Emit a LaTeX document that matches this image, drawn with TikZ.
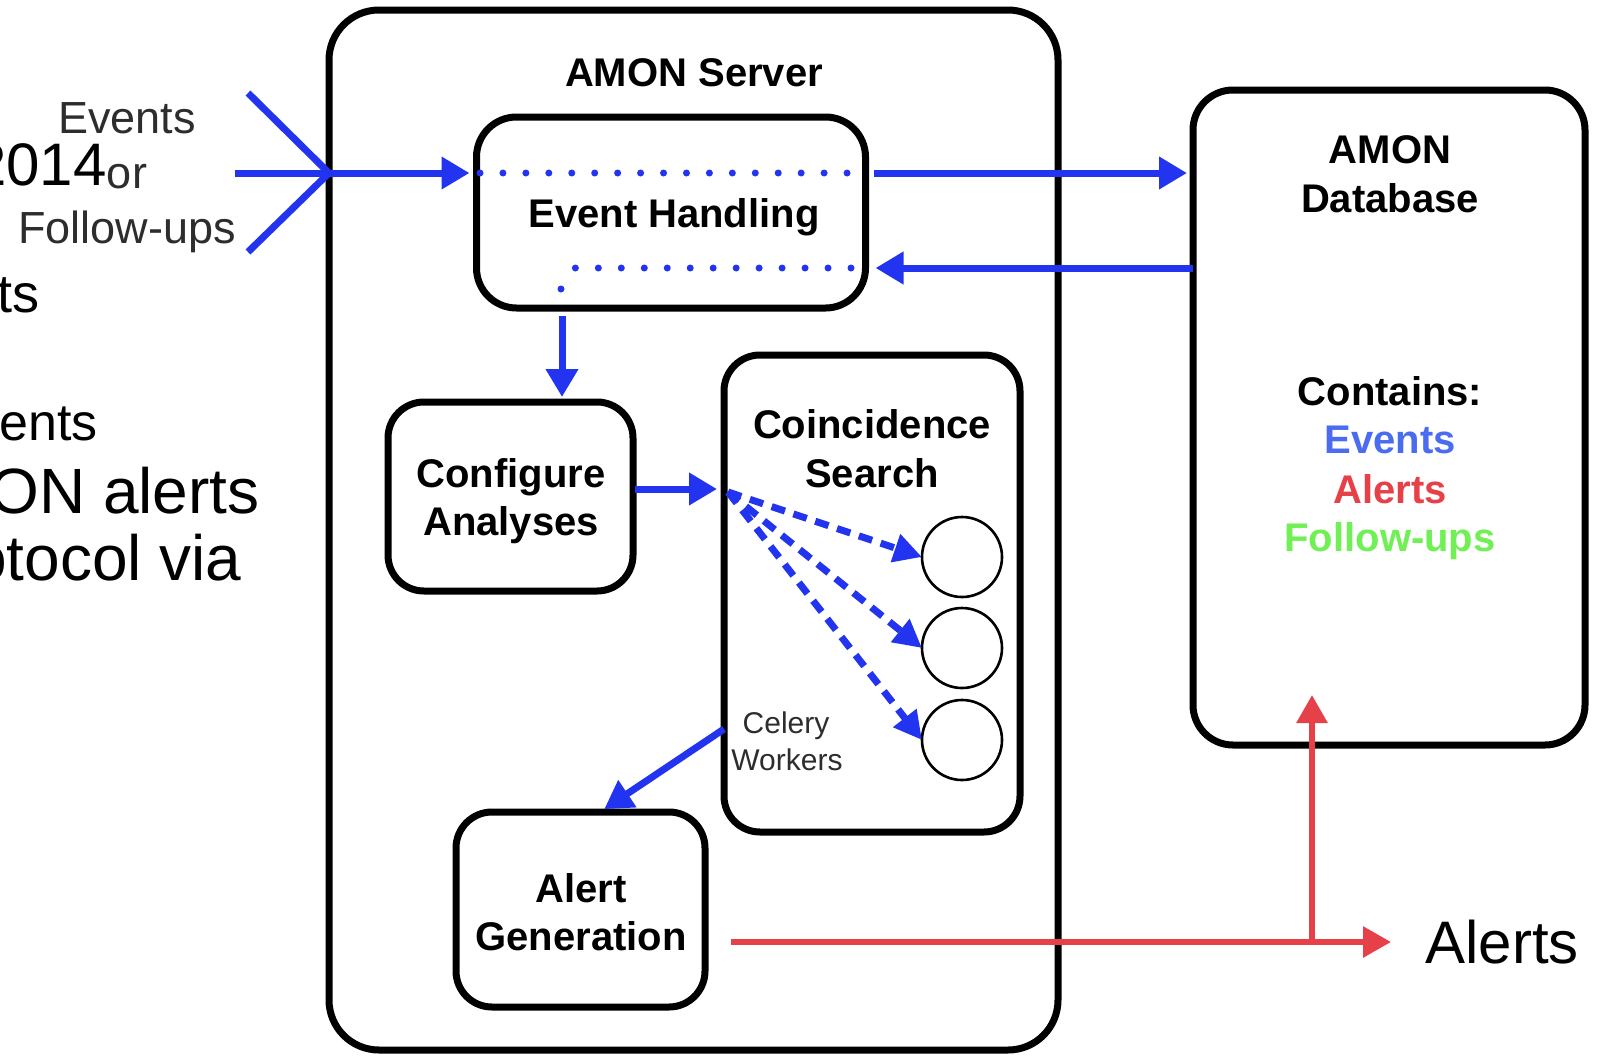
\documentclass[tikz,border=0pt]{standalone}
\usepackage{fontspec}
\setmainfont{Liberation Sans}
\usetikzlibrary{arrows.meta}
\definecolor{ablue}{RGB}{35,52,240}
\definecolor{ared}{RGB}{230,64,72}
\definecolor{tblue}{RGB}{74,108,240}
\definecolor{tred}{RGB}{230,64,72}
\definecolor{tgreen}{RGB}{112,240,84}
\definecolor{tgray}{RGB}{45,45,45}
\begin{document}
\begin{tikzpicture}[x=0.5pt,y=-0.5pt,
  box/.style={draw=black, line width=3.5pt, rounded corners=#1, inner sep=0pt, outer sep=0pt},
  box/.default=18pt,
  bl/.style={font=\fontsize{20}{24}\selectfont\bfseries, inner sep=0pt, anchor=base},
  rl/.style={inner sep=0pt, anchor=base},
  frag/.style={inner sep=0pt, anchor=base east},
  bline/.style={draw=ablue, line width=3.5pt},
  barrow/.style={bline, -{Triangle[length=14pt,width=15.5pt]}},
  rarrow/.style={draw=ared, line width=3pt, -{Triangle[length=14pt,width=15pt]}},
  dotline/.style={draw=ablue, line width=3.5pt, line cap=round, dash pattern=on 0pt off #1},
  dasharrow/.style={draw=ablue, line width=3.5pt, dash pattern=on 7pt off 4.5pt, -{Triangle[length=14pt,width=14pt]}},
  worker/.style={circle, draw=black, line width=1.3pt, minimum size=40pt, inner sep=0pt, outer sep=0pt},
]
\useasboundingbox (0,0) rectangle (1601,1061);
\clip (0,0) rectangle (1601,1061);
\fill[white] (0,0) rectangle (1601,1061);

% left text fragments
\node[frag, font=\fontsize{30}{36}\selectfont] (f2014) at (107,185) {2014};
\node[frag, font=\fontsize{27}{32}\selectfont] (fts) at (40,312) {ts};
\node[frag, font=\fontsize{26}{32}\selectfont] (fents) at (98,440) {ents};
\node[frag, font=\fontsize{32}{38}\selectfont] (fon) at (260,513) {ON alerts};
\node[frag, font=\fontsize{32}{38}\selectfont] (fproto) at (242,580) {otocol via};

% input label
\node[rl, text=tgray, font=\fontsize{22.5}{27}\selectfont] (inEv) at (127,133) {Events};
\node[rl, text=tgray, font=\fontsize{22.5}{27}\selectfont] (inOr) at (127,188) {or};
\node[rl, text=tgray, font=\fontsize{22.5}{27}\selectfont] (inFu) at (127,243) {Follow-ups};

% boxes
\node[box=25pt, minimum width=364.5pt, minimum height=520pt] (server) at (693.5,530) {};
\node[box=20pt, minimum width=194.5pt, minimum height=95.5pt] (evh) at (671,212.5) {};
\node[box=20pt, minimum width=196pt, minimum height=327.5pt] (db) at (1389,417.5) {};
\node[box, minimum width=122.5pt, minimum height=94.5pt] (cfg) at (510.5,496.5) {};
\node[box, minimum width=148pt, minimum height=238.5pt] (cs) at (872,593.5) {};
\node[box, minimum width=124.5pt, minimum height=97.5pt] (ag) at (580.5,909.5) {};
\node[worker] (w1) at (962,557) {};
\node[worker] (w2) at (962,648) {};
\node[worker] (w3) at (962,740) {};

% labels
\node[bl] (tserver) at (694,86) {AMON Server};
\node[bl] (tevh) at (674,227) {Event Handling};
\node[bl] (tcfg1) at (511,487) {Configure};
\node[bl] (tcfg2) at (511,535) {Analyses};
\node[bl] (tcs1) at (872,438) {Coincidence};
\node[bl] (tcs2) at (872,487) {Search};
\node[bl] (tag1) at (581,902) {Alert};
\node[bl] (tag2) at (581,950) {Generation};
\node[rl, text=tgray, font=\fontsize{15}{18}\selectfont] (tcel1) at (786,733) {Celery};
\node[rl, text=tgray, font=\fontsize{15}{18}\selectfont] (tcel2) at (787,770) {Workers};
\node[bl] (tdb1) at (1390,163) {AMON};
\node[bl] (tdb2) at (1390,212) {Database};
\node[bl] (tdb3) at (1390,405) {Contains:};
\node[bl, text=tblue] (tdb4) at (1390,453) {Events};
\node[bl, text=tred] (tdb5) at (1390,503) {Alerts};
\node[bl, text=tgreen] (tdb6) at (1390,551) {Follow-ups};
\node[rl, anchor=base west, font=\fontsize{30}{36}\selectfont] (alertsOut) at (1425,963) {Alerts};

% coordinates
\coordinate (inU) at (248,93);
\coordinate (inD) at (248,252);
\coordinate (inA) at (235,173);
\coordinate (jn) at (329,173);
\coordinate (yA) at (0,173);
\coordinate (yB) at (0,268);
\coordinate (xD) at (562,0);
\coordinate (yC) at (0,489);
\coordinate (ds) at (728,492);
\coordinate (yE) at (0,729);
\coordinate (xF) at (600,0);
\coordinate (yR) at (0,942);
\coordinate (rj) at (1312,942);
\coordinate (rtop) at (1312,695);

% blue connectors
\draw[bline] (inU) -- (jn) -- (inD);
\draw[barrow, shorten >=3.5pt] (inA) -- (evh.west |- jn);
\draw[barrow, shorten <=4pt, shorten >=3pt] (evh.east |- yA) -- (db.west |- yA);
\draw[barrow, shorten >=5pt] (db.west |- yB) -- (evh.east |- yB);
\draw[dotline=11.47pt] (480,173) -- (849,173);
\draw[dotline=11.485pt] (851,268) -- (573,268);
\fill[ablue] (561,289) circle (1.75pt);
\draw[barrow, shorten <=4pt, shorten >=2.5pt] (xD |- evh.south) -- (xD |- cfg.north);
\draw[barrow, shorten <=1pt, shorten >=3.5pt] (cfg.east |- yC) -- (cs.west |- yC);
\draw[dasharrow] (ds) -- (w1.west);
\draw[dasharrow] (ds) -- (w2.west);
\draw[dasharrow] (ds) -- (w3.west);
\draw[barrow, shorten >=2.5pt] (cs.west |- yE) -- (xF |- ag.north);

% red connectors
\draw[rarrow, shorten <=13pt, shorten >=17pt] (ag.east |- yR) -- (alertsOut.west |- yR);
\draw[rarrow] (rj) -- (rtop);
\end{tikzpicture}
\end{document}
